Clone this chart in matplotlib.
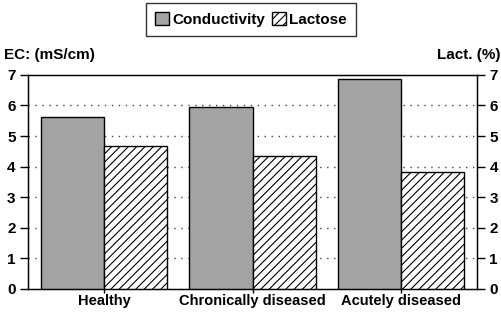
import numpy as np
import matplotlib
matplotlib.use("Agg")
import matplotlib.pyplot as plt
from matplotlib.patches import Patch

plt.rcParams['font.family'] = ['Liberation Sans', 'DejaVu Sans']
plt.rcParams['font.weight'] = 'bold'
plt.rcParams['hatch.linewidth'] = 0.8

categories = ["Healthy", "Chronically diseased", "Acutely diseased"]
conductivity = [5.62, 5.95, 6.88]
lactose = [4.68, 4.35, 3.82]
yticks = [0, 1, 2, 3, 4, 5, 6, 7]

fig = plt.figure(figsize=(5.02, 3.12), dpi=100)
ax = fig.add_axes([0.056, 0.074, 0.894, 0.686])

x = np.arange(len(categories))
w = 0.425
ax.bar(x - w / 2, conductivity, w, color='#a3a3a3', edgecolor='black',
       linewidth=1.0, zorder=3, label='Conductivity')
ax.bar(x + w / 2, lactose, w, color='white', edgecolor='black', hatch='////',
       linewidth=1.0, zorder=3, label='Lactose')

ax.set_xlim(-0.51, 2.51)
ax.set_ylim(0, 7)
ax.set_yticks(yticks)
ax.set_xticks(x)
ax.set_xticklabels(categories, fontsize=10.5, fontweight='bold')
ax.tick_params(axis='y', direction='out', length=6, width=1, labelsize=11, pad=3)
ax.tick_params(axis='x', direction='out', length=3, width=1, pad=1)
for yv in yticks[1:-1]:
    ax.axhline(yv, color='#444444', linestyle=(0, (1, 4)), linewidth=1.0, zorder=1)
for s in ax.spines.values():
    s.set_linewidth(1.0)

ax2 = ax.twinx()
ax2.set_ylim(0, 7)
ax2.set_yticks(yticks)
ax2.tick_params(axis='y', direction='out', length=6, width=1, labelsize=11, pad=3)

fig.text(0.008, 0.8, "EC: (mS/cm)", fontsize=11, fontweight='bold', ha='left', va='bottom')
fig.text(0.998, 0.8, "Lact. (%)", fontsize=11, fontweight='bold', ha='right', va='bottom')

handles = [Patch(facecolor='#a3a3a3', edgecolor='black'),
           Patch(facecolor='white', edgecolor='black', hatch='////')]
leg = fig.legend(handles, ["Conductivity", "Lactose"], loc='upper center',
                 bbox_to_anchor=(0.5, 0.995), ncol=2, frameon=True, fancybox=False,
                 edgecolor='black', fontsize=11, handlelength=0.9, handleheight=0.9,
                 handletextpad=0.2, columnspacing=0.5, borderpad=0.6,
                 borderaxespad=0.1)
leg.get_frame().set_linewidth(1.0)

fig.savefig("out.png", dpi=100)
